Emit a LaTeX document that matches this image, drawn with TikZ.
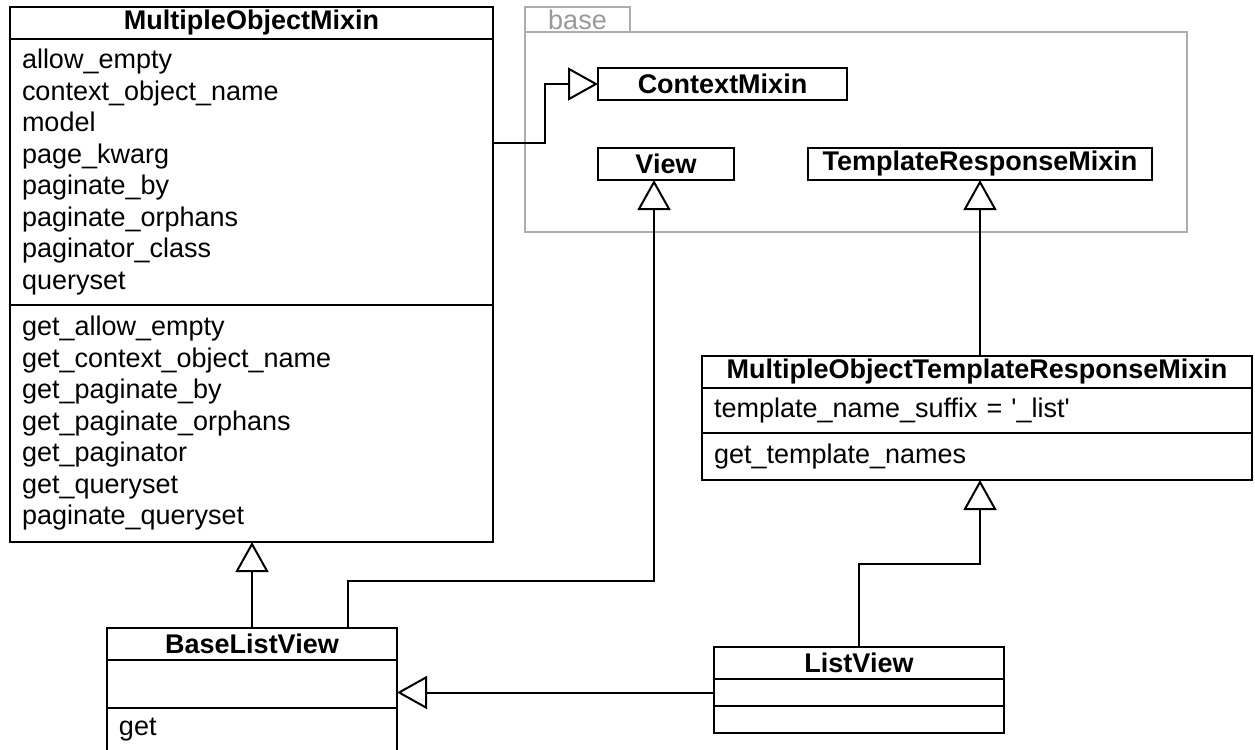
\documentclass[tikz,border=0pt]{standalone}
\usepackage{fontspec}
\setmainfont{Liberation Sans}
\usepackage{xcolor}
\usetikzlibrary{positioning, arrows.meta}
\definecolor{pkggray}{gray}{0.68}
\definecolor{basegray}{gray}{0.6}

\begin{document}
\begin{tikzpicture}[x=0.5pt, y=-0.5pt, line width=1pt,
        every node/.style={font=\fontsize{13.5}{15.75}\selectfont},
        cname/.style={draw, outer sep=0pt, inner sep=0pt, minimum height=16pt, font=\fontsize{13.5}{15.75}\selectfont\bfseries},
        cpart/.style={draw, outer sep=0pt, inner xsep=6pt, inner ysep=0pt, align=left},
        inherit/.style={-{Triangle[open, length=15pt, width=16.5pt]}}]
            \useasboundingbox (0, 0) rectangle (1255, 750);

            \node[draw=pkggray, line width=0.8pt, text=basegray, inner sep=0pt, outer sep=0pt, minimum width=52.5pt, minimum height=12.5pt] at (577.5, 19.5)   (basetab) {base};
            \draw[pkggray, line width=0.8pt] (basetab.south west) rectangle (1187, 232);

            \node[cname, minimum width=241.5pt] at (251.5, 23)   (mom) {MultipleObjectMixin};
            \node[cpart, text width=229.5pt, minimum height=133pt, below=0pt of mom]   (momattr) {allow\_empty\\ context\_object\_name\\ model\\ page\_kwarg\\ paginate\_by\\ paginate\_orphans\\ paginator\_class\\ queryset};
            \node[cpart, text width=229.5pt, minimum height=118.5pt, below=0pt of momattr]   (mommeth) {get\_allow\_empty\\ get\_context\_object\_name\\ get\_paginate\_by\\ get\_paginate\_orphans\\ get\_paginator\\ get\_queryset\\ paginate\_queryset};

            \node[cname, minimum width=124.5pt] at (722.5, 84)   (ctx) {ContextMixin};
            \node[cname, minimum width=68pt] at (666, 164)   (view) {View};
            \node[cname, minimum width=172pt] at (980, 164)   (trm) {TemplateResponseMixin};

            \node[cname, minimum width=275pt] at (977, 372)   (motrm) {MultipleObjectTemplateResponseMixin};
            \node[cpart, text width=263pt, minimum height=22.5pt, below=0pt of motrm]   (motrmattr) {template\_name\_suffix = \textquotesingle\_list\textquotesingle};
            \node[cpart, text width=263pt, minimum height=23.5pt, below=0pt of motrmattr]   (motrmmeth) {get\_template\_names};

            \node[cname, minimum width=145pt] at (252, 644)   (blv) {BaseListView};
            \node[cpart, text width=133pt, minimum height=24pt, below=0pt of blv]   (blvattr) {};
            \node[cpart, text width=133pt, minimum height=22pt, below=0pt of blvattr]   (blvmeth) {get};

            \node[cname, minimum width=145pt] at (859, 663)   (lv) {ListView};
            \node[cpart, text width=133pt, minimum height=13.5pt, below=0pt of lv]   (lvattr) {};
            \node[cpart, text width=133pt, minimum height=13.5pt, below=0pt of lvattr]   (lvmeth) {};

            \coordinate (cj) at (545, 143);
            \coordinate (bj) at (348, 581);
            \coordinate (vj) at (654, 581);
            \coordinate (lj) at (980, 564);

            \draw[inherit] (cj -| momattr.east) -- (cj) |- (ctx.west);
            \draw[inherit] (blv.north) -- (blv.north |- mommeth.south);
            \draw[inherit] (bj |- blv.north) -- (bj) -- (vj) -- (vj |- view.south);
            \draw[inherit] (trm.south |- motrm.north) -- (trm.south);
            \draw[inherit] (lv.north) |- (lj) -- (lj |- motrmmeth.south);
            \draw[inherit] (lvattr.west) -- (lvattr.west -| blvattr.east);
        \end{tikzpicture}
\end{document}
